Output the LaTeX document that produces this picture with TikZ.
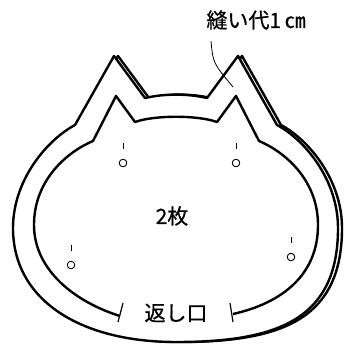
\documentclass[tikz,border=0pt]{standalone}
\usepackage{fontspec}
\setmainfont{Noto Sans CJK JP}
\newfontfamily\labelfont{Noto Sans CJK JP}[FakeBold=0.6]
\usetikzlibrary{calc}
\begin{document}
\begin{tikzpicture}[x=1pt,y=-1pt,line join=round,
                    every node/.style={font=\labelfont\fontsize{21}{25}\selectfont}]
                \useasboundingbox (0,0) rectangle (345,345);

                \foreach \dx in {4,0}
                \draw[line width=2.4pt,fill=white,xshift=\dx pt] (114,56) -- (145,98)
                    .. controls (165,93.5) and (187,93.5) .. (207,98) -- (238,56) -- (277,125)
                    .. controls (305,140) and (338,180) .. (338,228)
                    .. controls (338,318) and (280,342) .. (176,342)
                    .. controls (80,342) and (13,300) .. (13,228)
                    .. controls (13,180) and (47,140) .. (75,125) -- cycle;

                \coordinate (Gap1) at (120,316);
                \coordinate (Gap2) at (233,314);
                \draw[line width=2.4pt] (Gap1) .. controls (75,302) and (34,270) .. (34,225)
                    .. controls (34,180) and (67,152) .. (93,141) -- (116,96) -- (135,122)
                    .. controls (155,115) and (197,115) .. (217,122) -- (236,96) -- (259,141)
                    .. controls (285,152) and (318,180) .. (318,225)
                    .. controls (318,275) and (282,303) .. (Gap2);
                \draw[line width=1.2pt] ($(Gap1)+(-2,6)$) -- ($(Gap1)+(3,-13)$);
                \draw[line width=1.2pt] ($(Gap2)+(-3,-11)$) -- ($(Gap2)+(0,8)$);

                \foreach \x/\y in {123/163,236/163,71/265,291/257}{
                    \draw[line width=0.9pt] (\x,\y) circle (3.8);
                    \draw[line width=0.9pt] (\x,\y-20) -- (\x,\y-14);
                }

                \node (two) at (172,216) {2枚};
                \node (gap) at (176,313) {返し口};
                \node (allow) at (256,20) {縫い代1\,㎝};

                \coordinate (Lead1) at (211,41);
                \coordinate (Lead2) at (233,87);
                \draw[line width=0.8pt] (Lead1) .. controls (213,63) .. (Lead2);
            \end{tikzpicture}
\end{document}
